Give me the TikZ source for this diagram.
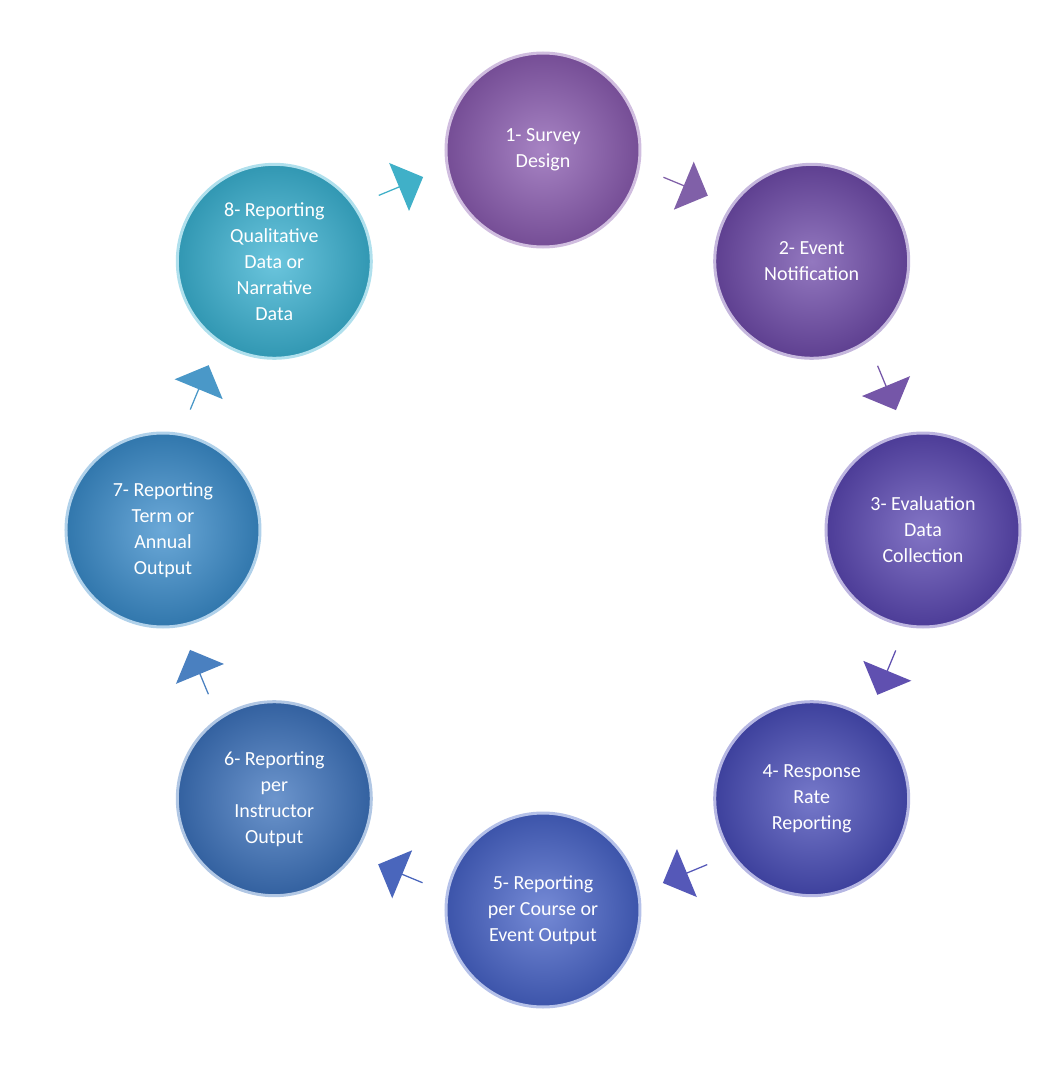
\documentclass[tikz,border=0pt]{standalone}
\usepackage{fontspec}
\setmainfont{Carlito}
\usetikzlibrary{shapes.arrows}
\definecolor{c1}{HTML}{8A5BB0}
\definecolor{c2}{HTML}{6F4BAA}
\definecolor{c3}{HTML}{5A47B2}
\definecolor{c4}{HTML}{484CB8}
\definecolor{c5}{HTML}{4763C8}
\definecolor{c6}{HTML}{3C72BC}
\definecolor{c7}{HTML}{3A8CCB}
\definecolor{c8}{HTML}{3AB2D2}
\definecolor{a1}{HTML}{8060A8}
\definecolor{a2}{HTML}{7556A8}
\definecolor{a3}{HTML}{6050B0}
\definecolor{a4}{HTML}{5558B8}
\definecolor{a5}{HTML}{4A66BC}
\definecolor{a6}{HTML}{4A80C0}
\definecolor{a7}{HTML}{4A98C8}
\definecolor{a8}{HTML}{40B0C8}
\begin{document}
\begin{tikzpicture}[x=1pt,y=1pt,
 stage/.style={circle,minimum size=194pt,inner sep=0pt,text=white,align=center,
   font=\fontsize{20}{26}\selectfont,draw=#1!40!white,line width=3pt,
   inner color=#1!75!white,outer color=#1!85!black},
 blk/.style={single arrow,fill=#1,minimum width=52pt,minimum height=48pt,
   single arrow head extend=8pt,inner sep=0pt}]
\useasboundingbox (-543,-550) rectangle (514,530);
\foreach \k/\t in {1/{1- Survey\\Design},2/{2- Event\\Notification},3/{3- Evaluation\\Data\\Collection},4/{4- Response\\Rate\\Reporting},5/{5- Reporting\\per Course or\\Event Output},6/{6- Reporting\\per\\Instructor\\Output},7/{7- Reporting\\Term or\\Annual\\Output},8/{8- Reporting\\Qualitative\\Data or\\Narrative\\Data}}{
  \pgfmathsetmacro\ang{90-45*(\k-1)}
  \node[stage=c\k] (n\k) at (\ang:380) {\t};
  \pgfmathsetmacro\aa{\ang-22.5}
  \pgfmathsetmacro\rr{\aa-90}
  \node[blk=a\k,rotate=\rr] (ar\k) at (\aa:372) {};
}
\end{tikzpicture}
\end{document}
